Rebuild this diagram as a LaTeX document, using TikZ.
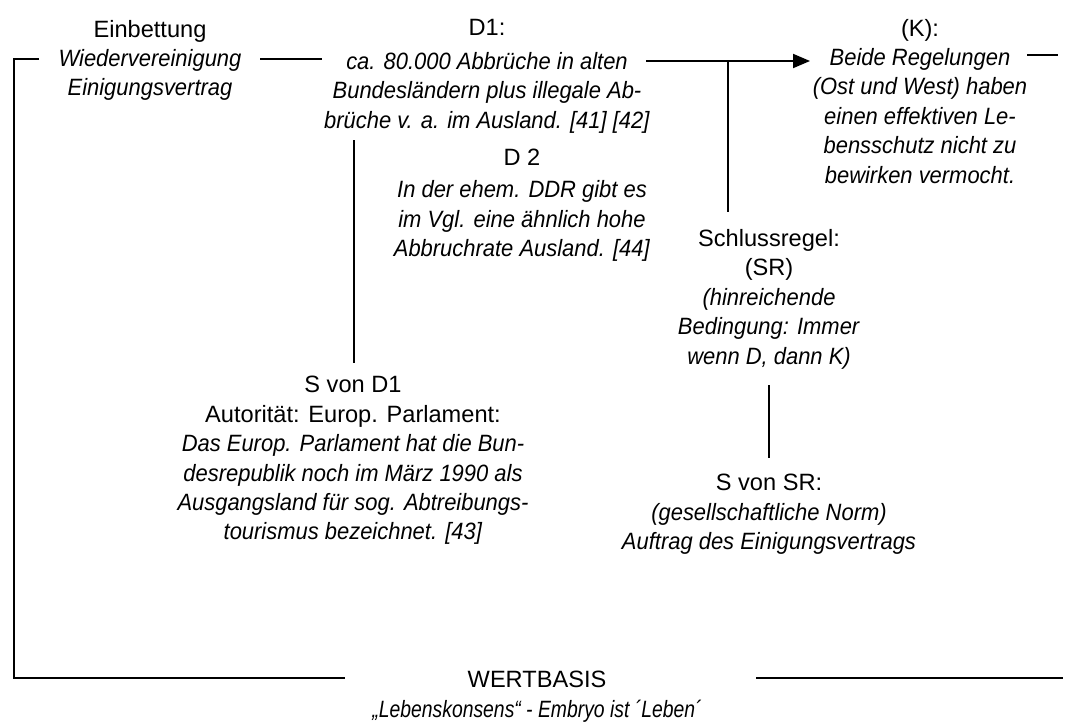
\documentclass[tikz,border=0pt]{standalone}
\usepackage{fontspec}
\setmainfont{Liberation Sans}[ItalicFeatures={FakeStretch=0.93}]
\newfontfamily\schmal{Liberation Sans}[FakeStretch=0.82]
\usepackage{tikz}
\usetikzlibrary{arrows.meta,positioning}
\definecolor{inkblack}{HTML}{000000}
\newcommand{\diafont}{\fontsize{11.8pt}{14.7pt}\selectfont}

\begin{document}
\begin{tikzpicture}[
  x=0.5pt, y=-0.5pt,
  every node/.style={font=\diafont, align=center, inner sep=0pt, text=inkblack},
  blk/.style={anchor=north},
  ln/.style={line width=1pt, color=inkblack},
  arr/.style={ln, -{Triangle[length=8.5pt, width=7pt]}},
]
  \useasboundingbox (0,0) rectangle (1069,722);

  \node[blk] (einb) at (150,19.5) {Einbettung\\ \textit{Wiedervereinigung}\\ \textit{Einigungsvertrag}};
  \node[blk] (d1) at (487,18.5) {D1:\\[2.5pt] \textit{ca. 80.000 Abbrüche in alten}\\ \textit{Bundesländern plus illegale Ab-}\\ \textit{brüche v. a. im Ausland. [41] [42]}};
  \node[blk] (k) at (920,18.5) {(K):\\ \textit{Beide Regelungen}\\ \textit{(Ost und West) haben}\\ \textit{einen effektiven Le-}\\ \textit{bensschutz nicht zu}\\ \textit{bewirken vermocht.}};
  \node[blk] (d2) at (522,148.5) {D 2\\[1.5pt] \textit{In der ehem. DDR gibt es}\\ \textit{im Vgl. eine ähnlich hohe}\\ \textit{Abbruchrate Ausland. [44]}};
  \node[blk] (sr) at (769,229) {Schlussregel:\\ (SR)\\ \textit{(hinreichende}\\ \textit{Bedingung: Immer}\\ \textit{wenn D, dann K)}};
  \node[blk] (svd1) at (353,376) {S von D1\\ Autorität: Europ. Parlament:\\ \textit{Das Europ. Parlament hat die Bun-}\\ \textit{desrepublik noch im März 1990 als}\\ \textit{Ausgangsland für sog. Abtreibungs-}\\ \textit{tourismus bezeichnet. [43]}};
  \node[blk] (svsr) at (769,474) {S von SR:\\ \textit{(gesellschaftliche Norm)}\\ \textit{Auftrag des Einigungsvertrags}};
  \node[blk] (wb) at (537,671) {WERTBASIS\\ {\schmal\itshape „Lebenskonsens“ - Embryo ist ´Leben´}};

  % Verbindungen
  \coordinate (einbL) at (39,59);
  \coordinate (einbR) at (260,59);
  \coordinate (d1L) at (322,59);
  \coordinate (d1R) at (646,61);
  \coordinate (kL) at (810,61);
  \coordinate (kR) at (1027,55);
  \coordinate (kEnd) at (1058,55);
  \coordinate (fork) at (728,61);
  \coordinate (srTop) at (728,212);
  \coordinate (d1Down) at (354,140);
  \coordinate (svdTop) at (354,363);
  \coordinate (srDown) at (769,385);
  \coordinate (svsrTop) at (769,458);
  \coordinate (wbL) at (345,678);
  \coordinate (wbR) at (756,678);
  \coordinate (wbEnd) at (1063,678);

  \draw[ln] (einbL) -- ++(-25,0) |- (wbL);
  \draw[ln] (einbR) -- (d1L);
  \draw[arr] (d1R) -- (kL);
  \draw[ln] (fork) -- (srTop);
  \draw[ln] (kR) -- (kEnd);
  \draw[ln] (d1Down) -- (svdTop);
  \draw[ln] (srDown) -- (svsrTop);
  \draw[ln] (wbR) -- (wbEnd);
\end{tikzpicture}
\end{document}
